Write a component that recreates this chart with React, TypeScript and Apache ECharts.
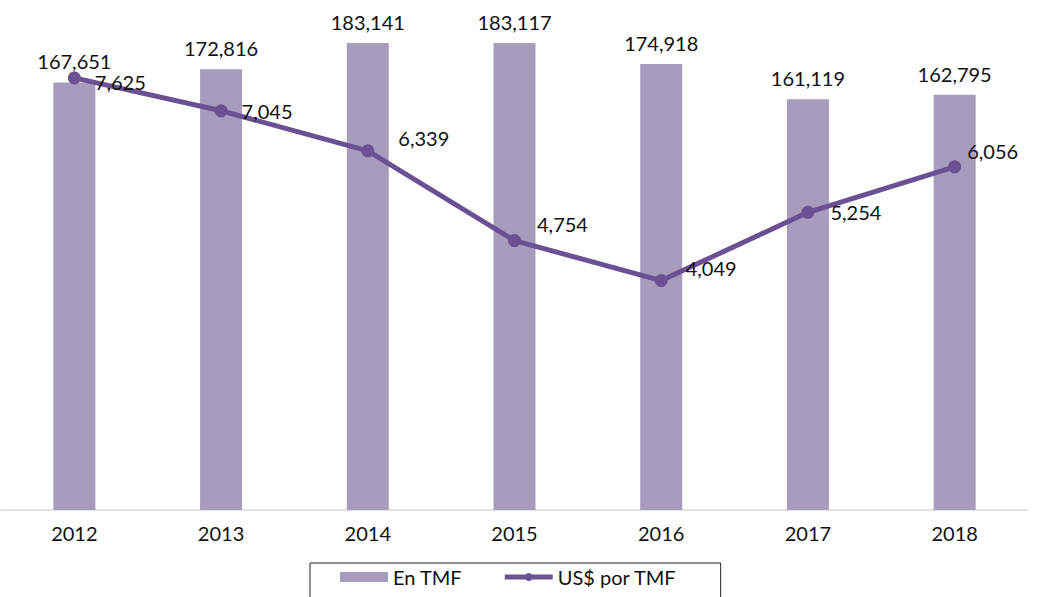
import React, { useEffect, useRef } from "react";
import * as echarts from "echarts";

const categories = ["2012", "2013", "2014", "2015", "2016", "2017", "2018"];
const enTMF = [167651, 172816, 183141, 183117, 174918, 161119, 162795];
const usdPorTMF = [7625, 7045, 6339, 4754, 4049, 5254, 6056];
const lineLabelOffsets = [
  [0, 4],
  [0, 0],
  [10, -13],
  [2, -17],
  [4, -13],
  [2, 0],
  [-8, -16],
];

const FONT = "Lato, 'Open Sans', sans-serif";

export default function App() {
  const ref = useRef<HTMLDivElement>(null);
  useEffect(() => {
    if (!ref.current) return;
    const chart = echarts.init(ref.current, undefined, { renderer: "svg" });
    chart.setOption({
      animation: false,
      textStyle: { fontFamily: FONT },
      grid: { left: 1, right: 13, top: 0, bottom: 87, containLabel: false },
      legend: {
        top: 563,
        left: 310,
        itemGap: 40,
        borderColor: "#222",
        borderWidth: 1,
        padding: [4, 44, 30, 30],
        itemWidth: 48,
        itemHeight: 10,
        textStyle: { fontSize: 20, color: "#111", fontFamily: FONT },
        data: [
          { name: "En TMF", icon: "rect" },
          { name: "US$ por TMF", lineStyle: { width: 5 }, itemStyle: { color: "#6A5193" } },
        ],
      },
      xAxis: {
        type: "category",
        data: categories,
        axisLine: { lineStyle: { color: "#d9d9d9", width: 1.5 } },
        axisTick: { show: false },
        axisLabel: { fontSize: 20, color: "#111", margin: 13, fontFamily: FONT },
      },
      yAxis: [
        { type: "value", min: 0, max: 200000, show: false, splitLine: { show: false } },
        { type: "value", min: 0, max: 9000, show: false, splitLine: { show: false } },
      ],
      series: [
        {
          name: "En TMF",
          type: "bar",
          data: enTMF,
          barWidth: 42,
          itemStyle: { color: "#A79BBE" },
          label: {
            show: true,
            position: "top",
            distance: 11,
            fontSize: 20,
            color: "#111",
            fontFamily: FONT,
            formatter: (p: any) => Number(p.value).toLocaleString("en-US"),
          },
        },
        {
          name: "US$ por TMF",
          type: "line",
          yAxisIndex: 1,
          data: usdPorTMF.map((v, i) => ({
            value: v,
            label: { offset: lineLabelOffsets[i] },
          })),
          symbol: "circle",
          symbolSize: 13,
          lineStyle: { color: "#6A5193", width: 5 },
          itemStyle: { color: "#6A5193" },
          label: {
            show: true,
            position: "right",
            distance: 14,
            fontSize: 20,
            color: "#111",
            fontFamily: FONT,
            formatter: (p: any) => Number(p.value).toLocaleString("en-US"),
          },
          z: 5,
        },
      ],
    });
    return () => chart.dispose();
  }, []);
  return (
    <div
      ref={ref}
      style={{ position: "fixed", left: 0, top: 0, width: 1041, height: 597, background: "#fff" }}
    />
  );
}
